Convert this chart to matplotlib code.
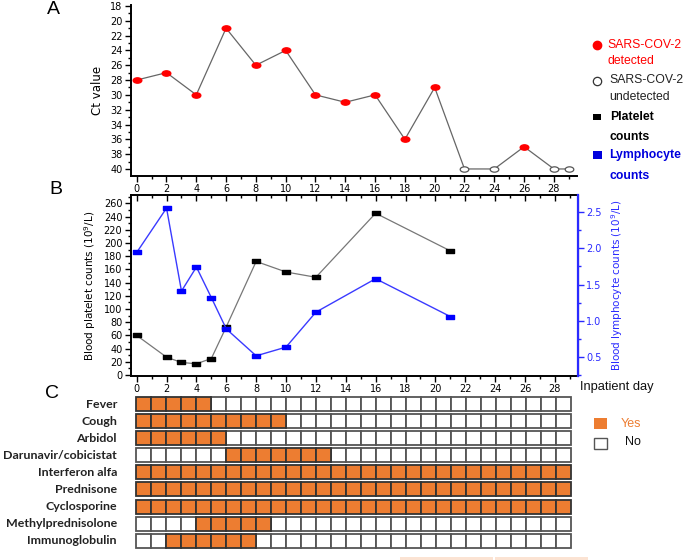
import matplotlib
matplotlib.use("Agg")
import matplotlib.pyplot as plt
from matplotlib.path import Path
from matplotlib.patches import Rectangle
from matplotlib.ticker import MultipleLocator
import matplotlib.transforms as mtransforms
import numpy as np

# ---------------- data ----------------
ct_days = [0, 2, 4, 6, 8, 10, 12, 14, 16, 18, 20, 22, 24, 26, 28, 29]
ct_values = [28, 27, 30, 21, 26, 24, 30, 31, 30, 36, 29, 40, 40, 37, 40, 40]
ct_detected = [1, 1, 1, 1, 1, 1, 1, 1, 1, 1, 1, 0, 0, 1, 0, 0]

lab_days = [0, 2, 3, 4, 5, 6, 8, 10, 12, 16, 21]
platelets = [60, 27, 19, 17, 25, 73, 172, 156, 148, 245, 188]
lymphocytes = [1.94, 2.55, 1.41, 1.74, 1.32, 0.89, 0.52, 0.64, 1.12, 1.58, 1.06]

items = ["Fever", "Cough", "Arbidol", "Darunavir/cobicistat", "Interferon alfa",
         "Prednisone", "Cyclosporine", "Methylprednisolone", "Immunoglobulin"]
start_day = [0, 0, 0, 6, 0, 0, 0, 4, 2]
end_day = [4, 9, 5, 12, 28, 28, 28, 8, 7]
n_days = 29

# ---------------- layout helpers ----------------
W, H = 685, 560
fig = plt.figure(figsize=(W / 100, H / 100), dpi=100)


def rect(l, t, r, b):
    return [l / W, 1 - b / H, (r - l) / W, (b - t) / H]


def ftext(x, y, s, **kw):
    return fig.text(x / W, 1 - y / H, s, **kw)


ell = Path.unit_circle().transformed(mtransforms.Affine2D().scale(1, 0.62))
sq = Path([(-1, -0.6), (1, -0.6), (1, 0.6), (-1, 0.6), (-1, -0.6)],
          [Path.MOVETO, Path.LINETO, Path.LINETO, Path.LINETO, Path.CLOSEPOLY])

NARROW = ["Liberation Sans Narrow", "DejaVu Sans"]
ORANGE = "#ED7D31"

# ---------------- Panel A ----------------
axA = fig.add_axes(rect(130.7, 5, 577, 176))
axA.plot(ct_days, ct_values, color="#666666", lw=0.9, zorder=1)
det_x = [d for d, f in zip(ct_days, ct_detected) if f]
det_y = [v for v, f in zip(ct_values, ct_detected) if f]
und_x = [d for d, f in zip(ct_days, ct_detected) if not f]
und_y = [v for v, f in zip(ct_values, ct_detected) if not f]
axA.plot(det_x, det_y, ls="none", marker=ell, ms=6.2, mfc="#ff0000", mec="#ff0000", zorder=3)
axA.plot(und_x, und_y, ls="none", marker=ell, ms=6.2, mfc="white", mec="#555555", mew=0.9, zorder=3)
axA.set_xlim(-0.4, 29.55)
axA.set_ylim(40.95, 17.87)
for s in ["top", "right"]:
    axA.spines[s].set_visible(False)
for s in ["left", "bottom"]:
    axA.spines[s].set_linewidth(1.4)
axA.yaxis.set_major_locator(MultipleLocator(2))
axA.yaxis.set_minor_locator(MultipleLocator(1))
axA.xaxis.set_major_locator(MultipleLocator(2))
axA.xaxis.set_minor_locator(MultipleLocator(1))
axA.tick_params(which="major", length=4, width=1, direction="out", pad=2)
axA.tick_params(which="minor", length=2.5, width=1, direction="out")
axA.set_xticks(range(0, 29, 2))
for lab in axA.get_xticklabels() + axA.get_yticklabels():
    lab.set_fontfamily("DejaVu Sans")
    lab.set_fontsize(7)
axA.set_ylabel("Ct value", family=NARROW, fontsize=8.5, labelpad=4)

# ---------------- Panel B ----------------
axB = fig.add_axes(rect(130.7, 195, 578, 376))
axB.plot(lab_days, platelets, color="#777777", lw=0.9, marker=sq, ms=5.2,
         mfc="black", mec="black", zorder=3)
axB.set_xlim(-0.4, 29.55)
axB.set_ylim(-1.5, 272.6)
axB.yaxis.set_major_locator(MultipleLocator(20))
axB.yaxis.set_minor_locator(MultipleLocator(10))
axB.xaxis.set_major_locator(MultipleLocator(2))
axB.xaxis.set_minor_locator(MultipleLocator(1))
axB.set_xticks(range(0, 29, 2))
axB.tick_params(which="major", length=4, width=1, direction="out", pad=2)
axB.tick_params(which="minor", length=2.5, width=1, direction="out")
axB.tick_params(axis="x", which="both", top=True)
for s in ["left", "bottom", "top"]:
    axB.spines[s].set_linewidth(1.4)
for lab in axB.get_xticklabels() + axB.get_yticklabels():
    lab.set_fontfamily("DejaVu Sans")
    lab.set_fontsize(7)
axB.set_ylabel("Blood platelet counts (10$^9$/L)", family=NARROW, fontsize=7.5, labelpad=4)

ax2 = axB.twinx()
ax2.plot(lab_days, lymphocytes, color="#3a3aff", lw=1.0, marker=sq, ms=5.2,
         mfc="#0000ff", mec="#0000ff", zorder=3)
ax2.set_ylim(0.243, 2.73)
ax2.yaxis.set_major_locator(MultipleLocator(0.5))
ax2.yaxis.set_minor_locator(MultipleLocator(0.25))
ax2.tick_params(which="major", length=4, width=1, direction="out", pad=2, colors="#2a2aff")
ax2.tick_params(which="minor", length=2.5, width=1, direction="out", colors="#2a2aff")
ax2.spines["right"].set_color("#2a2aff")
ax2.spines["right"].set_linewidth(1.6)
for s in ["left", "top", "bottom"]:
    ax2.spines[s].set_visible(False)
for lab in ax2.get_yticklabels():
    lab.set_fontfamily("DejaVu Sans")
    lab.set_fontsize(7)
ax2.set_ylabel("Blood lymphocyte counts (10$^9$/L)", family=NARROW, fontsize=7.5,
               color="#2a2aff", labelpad=5)
for t in axB.xaxis.get_major_ticks() + axB.xaxis.get_minor_ticks():
    t.tick2line.set_marker(matplotlib.lines.TICKDOWN)

# ---------------- Panel C ----------------
axC = fig.add_axes(rect(130.7, 393, 578, 551))
axC.set_xlim(-0.333, 29.45)
axC.set_ylim(9.006, -0.234)
axC.axis("off")
cell_h = 14 / 17.1
for i, name in enumerate(items):
    for d in range(n_days):
        on = start_day[i] <= d <= end_day[i]
        axC.add_patch(Rectangle((d, i), 1, cell_h,
                                facecolor=ORANGE if on else "white",
                                edgecolor="#333333" if on else "#555555",
                                lw=1.3, zorder=2 if on else 1))
    axC.text(-1.25, i + cell_h / 2, name, ha="right", va="center",
             family="Lato", fontweight="bold", fontsize=8.9, color="#222222")

# ---------------- texts / legends ----------------
ftext(53, 9, "A", fontsize=14, ha="center", va="center", family="Liberation Sans")
ftext(56, 189, "B", fontsize=14, ha="center", va="center", family="Liberation Sans")
ftext(52, 394, "C", fontsize=14, ha="center", va="center", family="Liberation Sans")

# legend A/B
fig.lines.append(matplotlib.lines.Line2D([597 / W], [1 - 45 / H], marker="o", ms=6,
                                         mfc="#ff0000", mec="#ff0000", ls="none",
                                         transform=fig.transFigure))
fig.lines.append(matplotlib.lines.Line2D([597 / W], [1 - 81 / H], marker="o", ms=6,
                                         mfc="white", mec="#333333", mew=0.9, ls="none",
                                         transform=fig.transFigure))
fig.patches.append(Rectangle((593 / W, 1 - 120 / H), 8 / W, 6 / H, facecolor="black",
                             edgecolor="none", transform=fig.transFigure))
fig.patches.append(Rectangle((593 / W, 1 - 159 / H), 9 / W, 8 / H, facecolor="#0000dd",
                             edgecolor="none", transform=fig.transFigure))
LEG = dict(family="Liberation Sans", fontsize=8.8, va="center", ha="left")
ftext(607, 45, "SARS-COV-2", color="#ff0000", **LEG)
ftext(607, 61, "detected", color="#ff0000", **LEG)
ftext(609, 80, "SARS-COV-2", color="#222222", **LEG)
ftext(609, 97, "undetected", color="#222222", **LEG)
ftext(610, 117, "Platelet", color="black", fontweight="bold", **LEG)
ftext(610, 137, "counts", color="black", fontweight="bold", **LEG)
ftext(609, 155, "Lymphocyte", color="#0000dd", fontweight="bold", **LEG)
ftext(609, 176, "counts", color="#0000dd", fontweight="bold", **LEG)

ftext(580, 387, "Inpatient day", family="Liberation Sans", fontsize=9.3,
      va="center", ha="left", color="#111111")

# legend C
fig.patches.append(Rectangle((594 / W, 1 - 429 / H), 13 / W, 11 / H, facecolor=ORANGE,
                             edgecolor="none", transform=fig.transFigure))
fig.patches.append(Rectangle((594 / W, 1 - 449 / H), 13 / W, 11 / H, facecolor="white",
                             edgecolor="#555555", lw=1.0, transform=fig.transFigure))
ftext(621, 424, "Yes", color=ORANGE, family="Liberation Sans", fontsize=9, va="center")
ftext(625, 442, "No", color="#111111", family="Liberation Sans", fontsize=9, va="center")

# faint artifact boxes at the bottom
for x0, x1 in [(400, 493), (495, 588)]:
    fig.patches.append(Rectangle((x0 / W, 1 - 560 / H), (x1 - x0) / W, 3 / H,
                                 facecolor="#fbe3d3", edgecolor="none",
                                 transform=fig.transFigure))

fig.savefig("out.png", dpi=100)
